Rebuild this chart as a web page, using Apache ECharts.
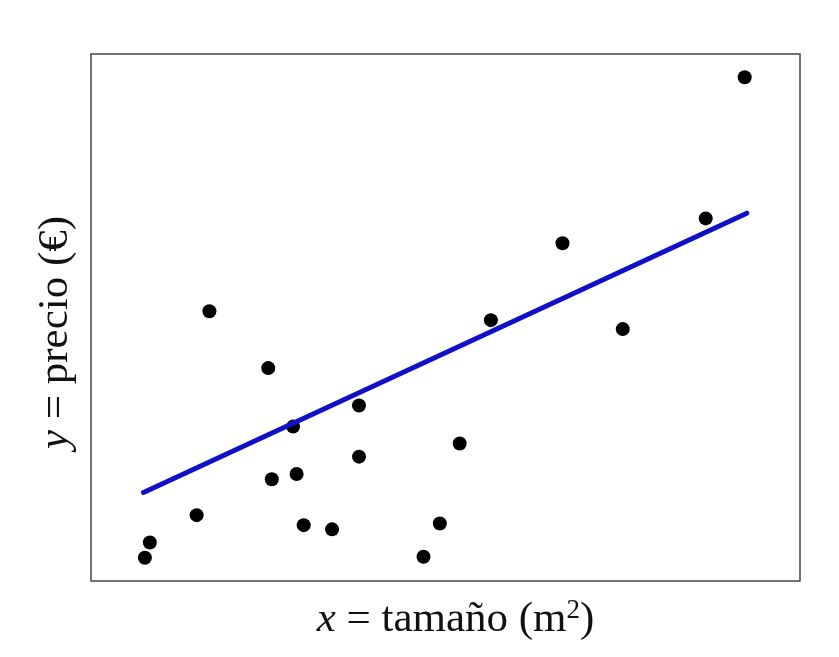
<!DOCTYPE html>
<html>
<head>
<meta charset="utf-8">
<script src="https://cdn.jsdelivr.net/npm/echarts@6/dist/echarts.min.js"></script>
<style>html,body{margin:0;padding:0;background:#fff}#c{width:839px;height:657px}</style>
</head>
<body>
<div id="c"></div>
<script>
const sizeX = [7.6, 8.3, 14.9, 16.7, 25.0, 25.5, 28.5, 29.0, 30.0, 34.0, 37.8, 37.8, 46.9, 49.2, 52.0, 56.4, 66.5, 75.0, 86.7, 92.2];
const priceY = [4.4, 7.3, 12.5, 51.2, 40.4, 19.3, 29.3, 20.3, 10.6, 9.8, 33.3, 23.6, 4.6, 10.9, 26.1, 49.5, 64.1, 47.8, 68.8, 95.6];
const fitX = [7.4, 92.5];
const fitY = [16.8, 69.8];

const points = sizeX.map((x, i) => [x, priceY[i]]);
const fitLine = fitX.map((x, i) => [x, fitY[i]]);

const chart = echarts.init(document.getElementById('c'), null, {renderer: 'canvas'});
chart.setOption({
  backgroundColor: '#fff',
  animation: false,
  grid: {left: 91, right: 39, top: 54, bottom: 76, outerBoundsMode: 'none', containLabel: false,
         show: true, borderColor: '#444', borderWidth: 1.5, backgroundColor: 'transparent'},
  xAxis: {
    type: 'value', min: 0, max: 100,
    axisLine: {show: false}, axisTick: {show: false}, axisLabel: {show: false}, splitLine: {show: false},
    name: '{i|x} = tamaño (m{s|2})', nameLocation: 'middle', nameGap: 16,
    nameTextStyle: {
      fontFamily: 'Liberation Serif', fontSize: 43, color: '#111', verticalAlign: 'top',
      padding: [0, 0, 0, 20],
      rich: {
        i: {fontFamily: 'Liberation Serif', fontStyle: 'italic', fontSize: 43, color: '#111'},
        s: {fontFamily: 'Liberation Serif', fontSize: 27, color: '#111', verticalAlign: 'top', padding: [0, 0, 18, 0]}
      }
    }
  },
  yAxis: {
    type: 'value', min: 0, max: 100,
    axisLine: {show: false}, axisTick: {show: false}, axisLabel: {show: false}, splitLine: {show: false},
    name: '{i|y} = precio (€)', nameLocation: 'middle', nameGap: 14,
    nameTextStyle: {
      fontFamily: 'Liberation Serif', fontSize: 43, color: '#111',
      padding: [0, 30, 0, 0],
      rich: {
        i: {fontFamily: 'Liberation Serif', fontStyle: 'italic', fontSize: 43, color: '#111'}
      }
    }
  },
  series: [
    {
      type: 'line', data: fitLine, showSymbol: false, z: 3,
      lineStyle: {color: '#1010c8', width: 5, cap: 'round'}
    },
    {
      type: 'scatter', data: points, symbol: 'circle', symbolSize: 14, z: 2,
      itemStyle: {color: '#000', opacity: 1}
    }
  ]
});
</script>
</body>
</html>
